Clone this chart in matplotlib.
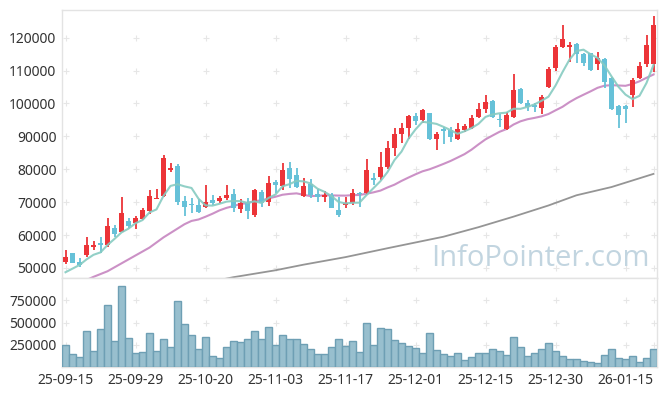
import matplotlib

matplotlib.use("Agg")

import numpy as np
import pandas as pd
import matplotlib.pyplot as plt

# ---- data ----
opens = [51800, 54500, 51900, 53950, 56300, 57700, 57000, 62200, 61000, 64300,
         63600, 64900, 67300, 71000, 72000, 79800, 81000, 70400, 69500, 69000,
         68400, 70700, 70500, 71200, 72500, 68000, 69900, 66100, 73100, 70200,
         76100, 75000, 80300, 78300, 72000, 75400, 72500, 71700, 72200, 67600,
         69100, 69700, 72700, 72700, 77200, 77600, 80800, 86400, 90700, 92500,
         96200, 95000, 97000, 89300, 92100, 92000, 89100, 92000, 92700, 96000,
         98200, 100700, 95400, 92200, 96000, 104400, 100100, 99400, 98700, 104900,
         110700, 117100, 117100, 118100, 115000, 115300, 111900, 113400, 107700, 99200,
         99200, 102600, 107900, 111900, 111900]
highs = [55500, 54700, 52900, 59300, 58100, 59500, 65100, 63100, 71500, 65100,
         65800, 68200, 73700, 73900, 84300, 82000, 81500, 71900, 71400, 70900,
         75100, 72200, 71900, 75200, 73900, 70900, 71200, 73900, 73700, 78000,
         76700, 81800, 82200, 80300, 77300, 76900, 73900, 73500, 72700, 71700,
         71500, 73900, 73200, 83000, 78800, 85400, 88700, 92500, 94200, 96500,
         97000, 98200, 97200, 91400, 93000, 92800, 94000, 93800, 96500, 100300,
         102600, 101100, 96800, 97500, 109000, 104600, 101100, 100100, 102600, 111000,
         117800, 123900, 118800, 118500, 115500, 115500, 115800, 113700, 108200, 99600,
         99500, 107700, 112700, 120800, 126600]
lows = [51100, 51400, 50400, 53200, 55500, 54500, 56300, 59500, 60800, 62000,
        61800, 64600, 66400, 70900, 71700, 79100, 69100, 65800, 66800, 66600,
        68100, 69200, 69700, 70700, 67100, 66600, 64800, 65400, 68400, 68800,
        72700, 73700, 74200, 74200, 71500, 71200, 70200, 70200, 68100, 65400,
        68100, 69200, 68400, 72500, 75200, 76800, 80000, 84100, 87900, 89100,
        93500, 94200, 88900, 85900, 87700, 88400, 88900, 91400, 92100, 95500,
        97200, 95500, 93000, 92000, 95500, 99900, 97800, 97500, 96800, 104600,
        110000, 116800, 112700, 112200, 111400, 110000, 110200, 104600, 98000, 92500,
        94000, 99000, 107400, 111200, 109700]
closes = [53400, 51600, 51000, 57000, 57000, 57100, 62800, 60300, 66800, 62800,
          65300, 67600, 71900, 71400, 83400, 80400, 70200, 68600, 69000, 67100,
          70200, 69900, 71400, 72200, 68100, 69900, 67400, 73700, 69700, 75700,
          75200, 79800, 77000, 74700, 74900, 72200, 71700, 72200, 68300, 66000,
          69900, 72700, 72400, 79800, 76600, 80600, 86400, 90700, 92500, 96200,
          94800, 98000, 89300, 90700, 91700, 89900, 92300, 93200, 95500, 98200,
          100400, 96000, 95000, 96500, 104100, 100300, 99000, 98800, 101900, 110400,
          117100, 119500, 117800, 115000, 112400, 110200, 113900, 106400, 98300, 96500,
          98400, 107100, 111400, 117800, 123900]
volumes = [252000, 141000, 108000, 408000, 178000, 422000, 700000, 289000, 911000, 330000,
           155000, 167000, 378000, 178000, 311000, 222000, 744000, 478000, 355000, 200000,
           341000, 119000, 97000, 230000, 289000, 278000, 311000, 400000, 311000, 452000,
           252000, 355000, 319000, 319000, 263000, 200000, 141000, 141000, 230000, 319000,
           241000, 289000, 167000, 489000, 244000, 433000, 422000, 300000, 267000, 233000,
           211000, 155000, 378000, 189000, 144000, 122000, 155000, 78000, 111000, 155000,
           155000, 200000, 178000, 133000, 333000, 222000, 122000, 155000, 200000, 267000,
           178000, 122000, 89000, 89000, 67000, 56000, 44000, 133000, 200000, 100000,
           89000, 122000, 56000, 100000, 200000]

# lead-in of the averages (history before the first candle)
ma5_head = [48700, 49800, 50900, 52600]
ma20_head_idx = [0, 4, 6, 10, 12, 14, 17, 18]
ma20_head = [43500, 47300, 49000, 53800, 56200, 59300, 63300, 64300]
# long average (grey)
ma_long_idx = [20, 24, 30, 34, 40, 46, 54, 59, 64, 69, 73, 78, 84]
ma_long = [45500, 47200, 49300, 51000, 53300, 56000, 59500, 62400, 65600, 69000,
           72100, 74600, 78600]

tick_idx = [0, 10, 20, 30, 40, 50, 60, 70, 80]
tick_labels = ["25-09-15", "25-09-29", "25-10-20", "25-11-03", "25-11-17",
               "25-12-01", "25-12-15", "25-12-30", "26-01-15"]
price_ticks = [50000, 60000, 70000, 80000, 90000, 100000, 110000, 120000]
vol_ticks = [250000, 500000, 750000]

UP = "#ec3438"
DOWN = "#66c1d8"
GRID = "#e6e6e6"
SPINE = "#e3e3e3"

plt.rcParams["font.family"] = ["Noto Sans", "DejaVu Sans"]

o = np.array(opens, float)
h = np.array(highs, float)
l = np.array(lows, float)
c = np.array(closes, float)
x = np.arange(len(c))

s = pd.Series(c)
ma5 = s.rolling(5).mean().to_numpy()
ma5[:4] = ma5_head
ma20_x = list(ma20_head_idx) + list(range(19, len(c)))
ma20_y = list(ma20_head) + list(s.rolling(20).mean().to_numpy()[19:])

fig = plt.figure(figsize=(6.65, 3.96), dpi=100)
ax = fig.add_axes([62 / 665, 1 - 278 / 396, 595 / 665, 268 / 396])
axv = fig.add_axes([62 / 665, 1 - 367 / 396, 595 / 665, 89 / 396], sharex=ax)

# candles
up = c >= o
cols = np.where(up, UP, DOWN)
ax.vlines(x, l, h, colors=cols, linewidth=1.3, zorder=3)
body = np.maximum(np.abs(c - o), 250)
ax.bar(x, body, bottom=np.minimum(o, c), width=0.64, color=cols, linewidth=0, zorder=4)

# averages
ax.plot(x, ma5, color="#86cbc1", lw=1.5, alpha=0.9, zorder=5)
ax.plot(ma20_x, ma20_y, color="#c98bc3", lw=1.5, alpha=0.95, zorder=2)
ax.plot(ma_long_idx, ma_long, color="#959595", lw=1.3, zorder=2)

ax.text(0.988, 0.02, "InfoPointer.com", transform=ax.transAxes, ha="right", va="bottom",
        fontsize=21, color="#c2d5e0", family=["Open Sans", "DejaVu Sans"], zorder=1)

# volume
axv.bar(x, volumes, width=1.0, color="#98bfce", edgecolor="#6e9fb4", linewidth=1.0, zorder=3)

ax.set_xlim(-0.5, len(c) - 0.5)
ax.set_ylim(46950, 128420)
axv.set_ylim(0, 1000000)

# '+' grid markers
gx = tick_idx + [84]
for a, yt in ((ax, price_ticks), (axv, vol_ticks)):
    gxx, gyy = np.meshgrid(gx, yt)
    a.plot(gxx.ravel(), gyy.ravel(), ls="none", marker="+", ms=4, mew=0.8, color=GRID, zorder=0)
    for sp in a.spines.values():
        sp.set_color(SPINE)
        sp.set_linewidth(1.0)
    a.tick_params(length=0, labelsize=10, colors="#333333", pad=4)

ax.set_yticks(price_ticks)
ax.set_yticklabels([str(v) for v in price_ticks])
axv.set_yticks(vol_ticks)
axv.set_yticklabels([str(v) for v in vol_ticks])
axv.set_xticks(tick_idx)
axv.set_xticklabels(tick_labels)
ax.tick_params(labelbottom=False)

fig.savefig("out.png", dpi=100)
